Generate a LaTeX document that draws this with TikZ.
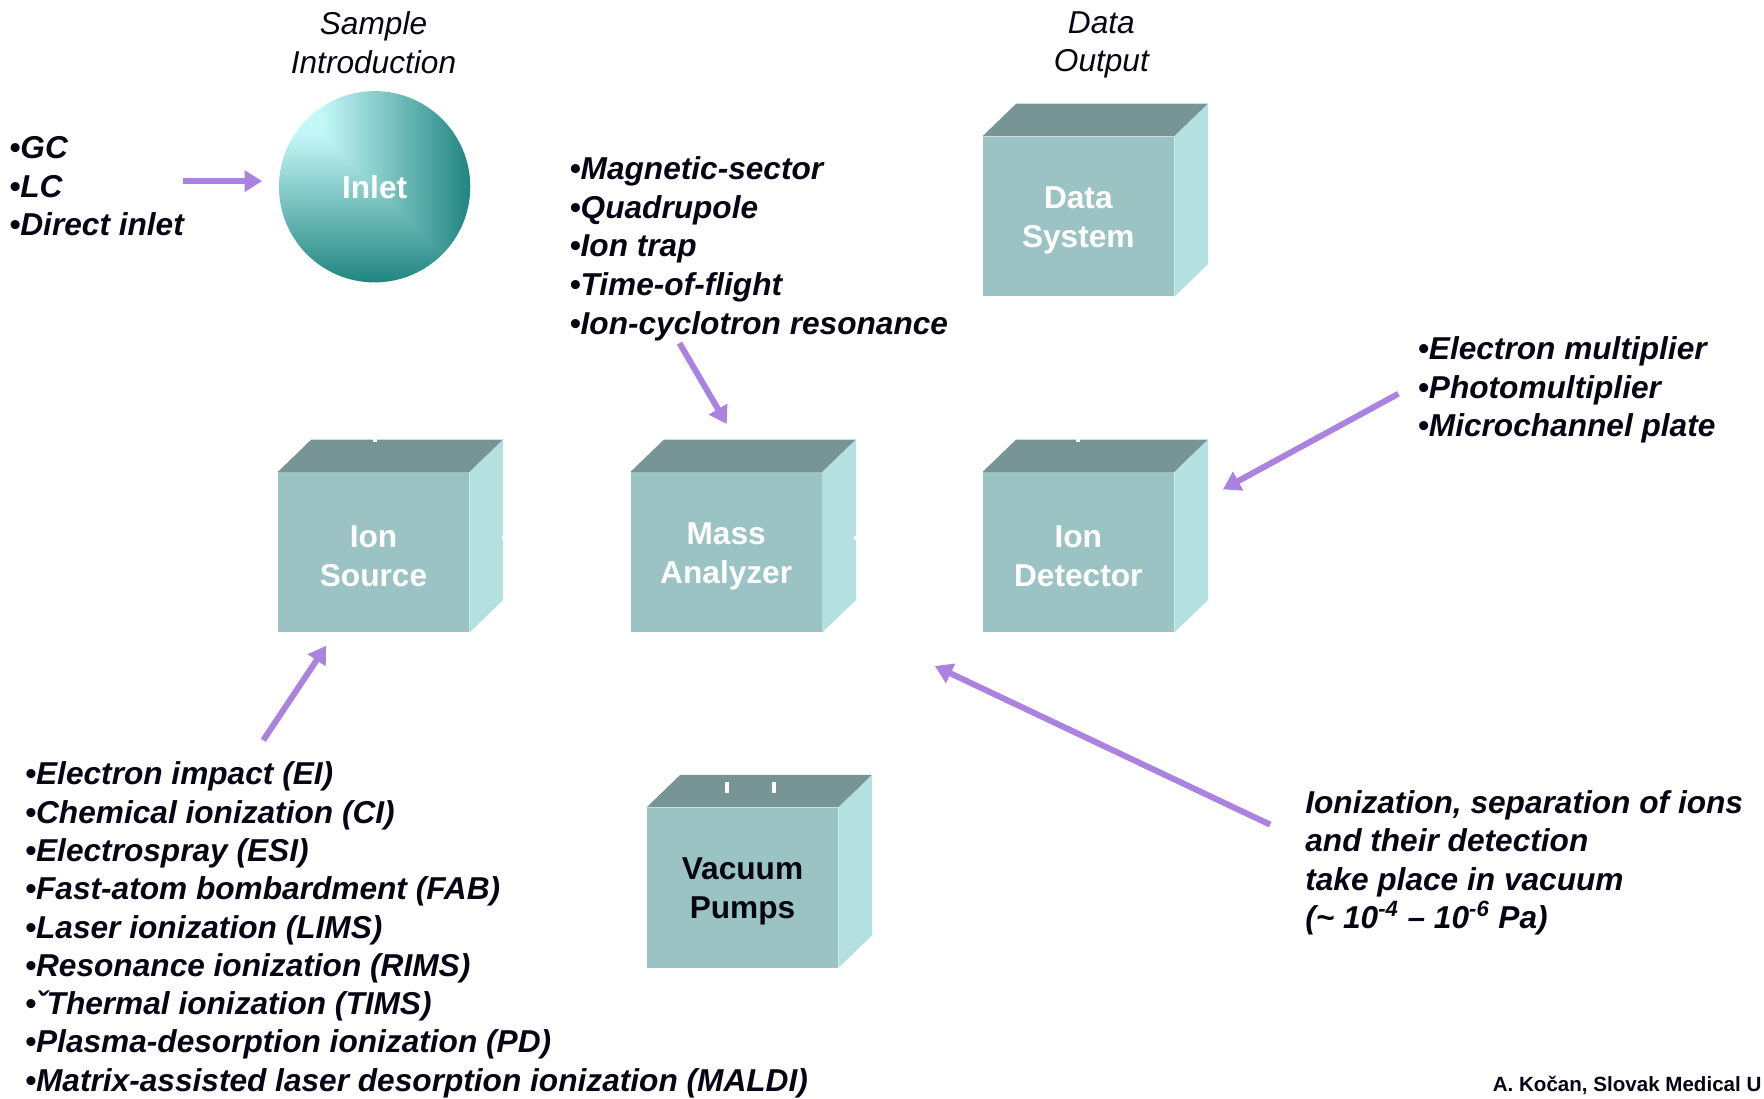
\documentclass[tikz,border=0pt]{standalone}
\usepackage{fontspec}
\setmainfont{Liberation Sans}
\usepackage{tikz}
\usepackage{xcolor}
\usetikzlibrary{arrows.meta}
\definecolor{boxfront}{RGB}{156,195,195}
\definecolor{boxtop}{RGB}{120,149,149}
\definecolor{boxside}{RGB}{180,224,224}
\definecolor{arrowpurple}{RGB}{170,130,224}
\definecolor{inktext}{RGB}{5,5,20}
% light corner at the upper left, darker towards the right and the bottom
% (the circle sits in the middle 25bp..75bp of the shading)
\pgfdeclarefunctionalshading{inletshade}{\pgfpointorigin}{\pgfpoint{100bp}{100bp}}{}{
    64 exch sub exch 36 sub 2 copy lt {exch} if pop 39 div
    dup 0 lt {pop 0} if dup 1 gt {pop 1} if
    dup -0.64 mul 0.77 add exch dup -0.45 mul 0.97 add exch -0.47 mul 0.97 add
}
\tikzset{
    stage-box/.style = {rectangle, fill=boxfront, minimum width=4.25cm, minimum height=3.55cm, inner sep=0pt, align=center, text=white, font=\fontsize{20}{24.4}\selectfont\bfseries},
    stage-top/.style = {fill=boxtop},
    stage-side/.style = {fill=boxside},
    note-list/.style = {anchor=north west, inner sep=0pt, align=left, text=inktext, font=\fontsize{20}{24.4}\selectfont\bfseries\itshape},
    head-title/.style = {anchor=north, inner sep=0pt, align=center, text=inktext, font=\fontsize{20}{24.4}\selectfont\itshape},
    purple-arrow/.style = {draw=arrowpurple, line width=3.8pt, -{Triangle[length=11pt, width=13pt]}},
    white-tick/.style = {draw=white, line width=2.4pt},
}

\begin{document}
\begin{tikzpicture}[x=0.025cm, y=-0.025cm]
\useasboundingbox (0,0) rectangle (1568,976);

% headings
\node[head-title] (samplehead) at (332,10) {Sample\\Introduction};
\node[head-title] (datahead) at (979,10) {Data\\Output};

% inlet
\node[circle, minimum size=4.25cm, inner sep=0pt, shading=inletshade, text=white, font=\fontsize{20}{24.4}\selectfont\bfseries] (inlet) at (333,166) {Inlet};

% stages
\node[stage-box] (src) at (332,491) {\rule{0pt}{18.5pt}Ion\\Source};
\node[stage-box] (mass) at (645.5,491) {\rule{0pt}{18.5pt}Mass\\Analyzer};
\node[stage-box] (det) at (958.5,491) {\rule{0pt}{18.5pt}Ion\\Detector};
\node[stage-box] (data) at (958.5,192.5) {\rule{0pt}{18.5pt}Data\\System};
\node[stage-box, text=inktext] (vac) at (660,789) {\rule{0pt}{18.5pt}Vacuum\\Pumps};
\foreach \b in {src,mass,det,data,vac}{
    \fill[stage-top] (\b.north west) -- ([shift={(30,-29)}]\b.north west) -- ([shift={(30,-29)}]\b.north east) -- (\b.north east) -- cycle;
    \fill[stage-side] (\b.north east) -- ([shift={(30,-29)}]\b.north east) -- ([shift={(30,-29)}]\b.south east) -- (\b.south east) -- cycle;
}
\draw[white-tick] (646,695) -- (646,705);
\draw[white-tick] (688,695) -- (688,705);
\draw[white-tick] (333,390) -- (333,393);
\draw[white-tick] (958,390) -- (958,393);
\draw[white-tick] (446,478) -- (450,478);
\draw[white-tick] (759,478) -- (763,478);

% lists
\node[note-list] (inletlist) at (8,121) {•GC\\•LC\\•Direct inlet};
\node[note-list] (masslist) at (506,139) {•Magnetic-sector\\•Quadrupole\\•Ion trap\\•Time-of-flight\\•Ion-cyclotron resonance};
\node[note-list] (detlist) at (1260,299) {•Electron multiplier\\•Photomultiplier\\•Microchannel plate};
\node[note-list, font=\fontsize{20}{24.2}\selectfont\bfseries\itshape] (srclist) at (22,677) {•Electron impact (EI)\\•Chemical ionization (CI)\\•Electrospray (ESI)\\•Fast-atom bombardment (FAB)\\•Laser ionization (LIMS)\\•Resonance ionization (RIMS)\\•ˇThermal ionization (TIMS)\\•Plasma-desorption ionization (PD)\\•Matrix-assisted laser desorption ionization (MALDI)};
\node[note-list] (vacnote) at (1160,702) {Ionization, separation of ions\\and their detection\\take place in vacuum\\(\textasciitilde{} 10\textsuperscript{-4} – 10\textsuperscript{-6} Pa)};
\node[anchor=base east, inner sep=0pt, text=inktext, font=\fontsize{13}{16}\selectfont\bfseries] (credit) at (1566,970) {A. Kočan, Slovak Medical U};

% arrows
\coordinate (inletfrom) at (163,161);
\coordinate (inletto) at (233,161);
\coordinate (massfrom) at (604,305);
\coordinate (massto) at (646,377);
\coordinate (detfrom) at (1243,350);
\coordinate (detto) at (1087,435);
\coordinate (srcfrom) at (234,658);
\coordinate (srcto) at (290,574);
\coordinate (vacfrom) at (1129,733);
\coordinate (vacto) at (831,592);
\draw[purple-arrow] (inletfrom) -- (inletto);
\draw[purple-arrow] (massfrom) -- (massto);
\draw[purple-arrow] (detfrom) -- (detto);
\draw[purple-arrow] (srcfrom) -- (srcto);
\draw[purple-arrow] (vacfrom) -- (vacto);
\end{tikzpicture}
\end{document}
